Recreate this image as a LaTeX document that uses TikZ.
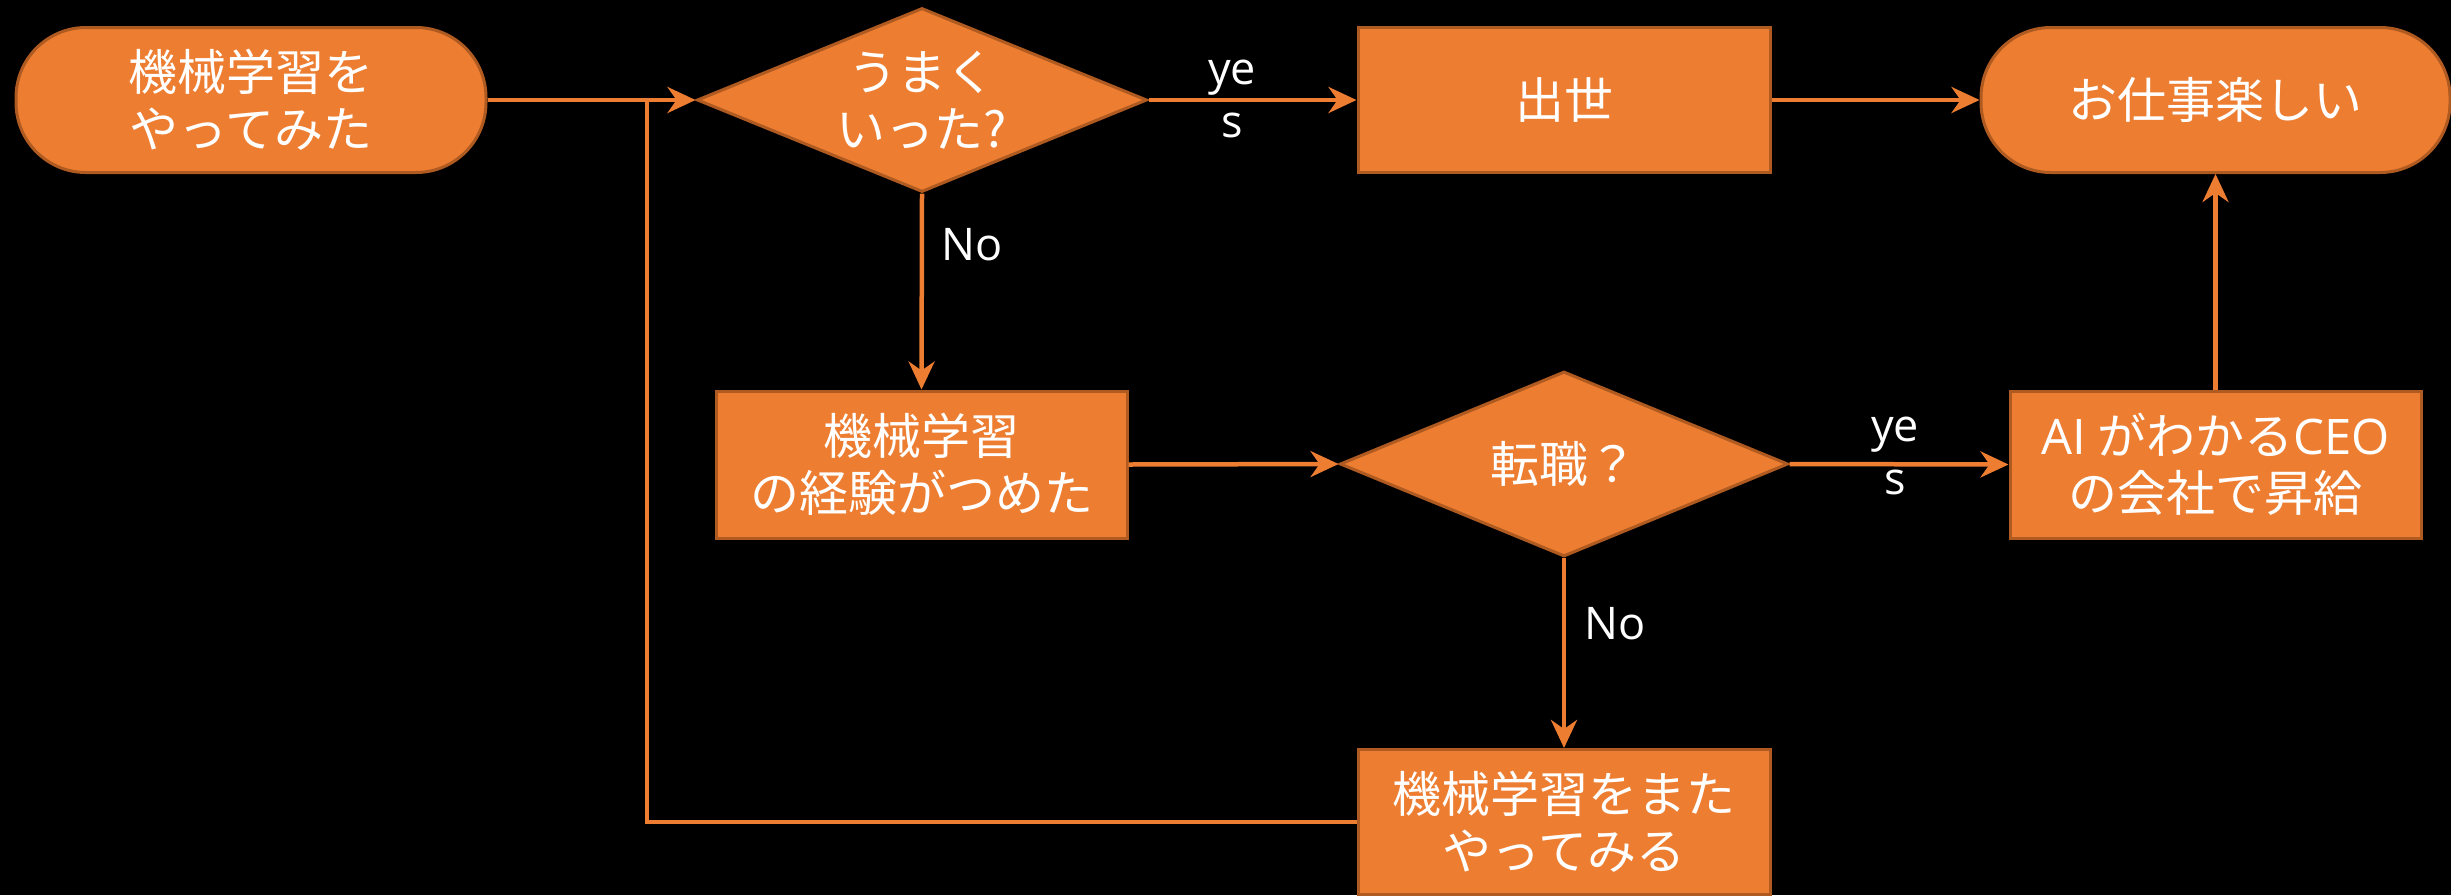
\documentclass[tikz,border=0pt]{standalone}
\usepackage{fontspec}
\setmainfont{Open Sans}
\newfontfamily\jp{Noto Sans CJK JP}
\newfontfamily\lat{Open Sans}
\usetikzlibrary{arrows.meta,shapes.geometric}
\definecolor{org}{HTML}{ED7D31}
\definecolor{orgd}{HTML}{AE5A21}
\begin{document}
\begin{tikzpicture}[x=1pt,y=-1pt,
  box/.style={draw=orgd, line width=3pt, fill=org, text=white, font=\fontsize{49}{57}\selectfont\jp, align=center, inner sep=0pt},
  term/.style={box, rounded corners=70pt},
  dia/.style={draw=orgd, line width=3pt, fill=org, diamond, inner sep=0pt, aspect=2.4},
  dtext/.style={text=white, font=\fontsize{49}{57}\selectfont\jp, align=center, inner sep=0pt},
  conn/.style={draw=org, line width=4.5pt, -{Stealth[length=28pt,width=26pt,inset=9pt]}},
  plain/.style={draw=org, line width=4.5pt},
  lab/.style={text=white, font=\fontsize{45}{53}\selectfont\lat, align=center, inner sep=0pt}]
\fill[black] (0,0) rectangle (2451,895);
\useasboundingbox (0,0) rectangle (2451,895);

% nodes
\node[term, minimum width=470pt, minimum height=145pt] (start) at (251,100) {機械学習を\\やってみた};
\node[dia, minimum width=450pt, minimum height=184pt] (d1) at (922,100) {};
\node[dtext] (d1t) at (d1.center) {うまく\\いった?};
\node[box, minimum width=412pt, minimum height=145pt] (up) at (1564,100) {出世};
\node[term, minimum width=469pt, minimum height=145pt] (goal) at (2215.5,100) {お仕事楽しい};
\node[box, minimum width=411pt, minimum height=147pt] (exp) at (921.5,464.5) {機械学習\\の経験がつめた};
\node[dia, minimum width=448pt, minimum height=185pt] (d2) at (1564,464) {};
\node[dtext] (d2t) at (d2.center) {転職？};
\node[box, minimum width=411pt, minimum height=147pt] (ai) at (2215.5,464.5) {{\lat AI} がわかる{\lat CEO}\\の会社で昇給};
\node[box, minimum width=412pt, minimum height=145pt] (again) at (1564,822) {機械学習をまた\\やってみる};

\coordinate (j) at (647,100);

% connectors
\draw[conn] (start.east) -- (d1.west);
\draw[plain] (again.west) -| (j);
\draw[conn] (d1.east) -- (up.west);
\draw[conn] (up.east) -- (goal.west);
\draw[conn] (d1.south) -- (exp.north);
\draw[conn] (exp.east) -- (d2.west);
\draw[conn] (d2.east) -- (ai.west);
\draw[conn] (ai.north) -- (goal.south);
\draw[conn] (d2.south) -- (again.north);

% labels
\node[lab] (y1) at (1232,99) {ye\\s};
\node[lab] (n1) at (972,245) {No};
\node[lab] (y2) at (1895,456) {ye\\s};
\node[lab] (n2) at (1615,624) {No};
\end{tikzpicture}
\end{document}
